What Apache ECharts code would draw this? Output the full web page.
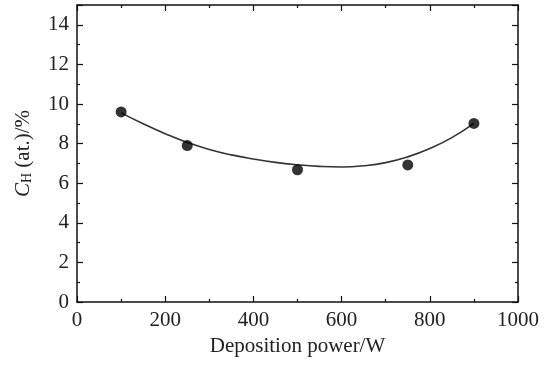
<!DOCTYPE html>
<html><head><meta charset="utf-8">
<script src="https://cdn.jsdelivr.net/npm/echarts@6/dist/echarts.min.js"></script>
<style>html,body{margin:0;padding:0;background:#fff}#c{width:556px;height:366px}</style>
</head><body><div id="c"></div>
<script>
var powerW = [100, 250, 500, 750, 900];
var hContent = [9.6, 7.9, 6.68, 6.92, 9.02];
var fitX = [100, 150, 200, 250, 300, 350, 400, 450, 500, 550, 600, 650, 700, 750, 800, 850, 900];
var fitY = [9.55, 9.0, 8.5, 8.06, 7.7, 7.43, 7.22, 7.05, 6.93, 6.85, 6.82, 6.88, 7.04, 7.33, 7.75, 8.3, 9.02];
var font = 'Liberation Serif, Times New Roman, serif';
var chart = echarts.init(document.getElementById('c'));
var axisCommon = {
  axisLine: {show: true, onZero: false, lineStyle: {color: '#111', width: 1.5}},
  axisTick: {show: true, inside: true, length: 6, lineStyle: {color: '#111', width: 1.2}},
  minorTick: {show: true, splitNumber: 2, length: 3, lineStyle: {color: '#111', width: 1.2}},
  splitLine: {show: false}
};
chart.setOption({
  animation: false,
  grid: {left: 77, right: 38, top: 5, bottom: 64},
  xAxis: [
    Object.assign({type: 'value', min: 0, max: 1000, interval: 200, position: 'bottom',
      name: 'Deposition power/W', nameLocation: 'middle', nameGap: 33,
      nameTextStyle: {fontFamily: font, fontSize: 21, color: '#222'},
      axisLabel: {fontFamily: font, fontSize: 21, color: '#222', margin: 8,
        formatter: function (v) { return String(v); }}}, axisCommon),
    Object.assign({type: 'value', min: 0, max: 1000, interval: 200, position: 'top',
      axisLabel: {show: false}}, axisCommon)
  ],
  yAxis: [
    Object.assign({type: 'value', min: 0, max: 15, interval: 2, position: 'left',
      name: '{i|C}{s|H}{n| (at.)/%}', nameLocation: 'middle', nameGap: 43, nameRotate: 90,
      nameTextStyle: {fontFamily: font, fontSize: 21, color: '#222',
        rich: {i: {fontFamily: font, fontSize: 21, fontStyle: 'italic', color: '#222'},
               s: {fontFamily: font, fontSize: 14, color: '#222', verticalAlign: 'bottom', padding: [8, 0, 0, 0]},
               n: {fontFamily: font, fontSize: 21, color: '#222'}}},
      axisLabel: {fontFamily: font, fontSize: 21, color: '#222', margin: 8,
        formatter: function (v) { return v % 2 === 0 ? String(v) : ''; }}}, axisCommon),
    Object.assign({type: 'value', min: 0, max: 15, interval: 2, position: 'right',
      axisLabel: {show: false}}, axisCommon)
  ],
  series: [
    {type: 'line', data: fitX.map(function (x, i) { return [x, fitY[i]]; }), smooth: true,
     showSymbol: false, lineStyle: {color: '#333', width: 1.6}, z: 2},
    {type: 'scatter', data: powerW.map(function (x, i) { return [x, hContent[i]]; }),
     symbol: 'circle', symbolSize: 11, itemStyle: {color: '#000'}, z: 3}
  ]
});
</script></body></html>
